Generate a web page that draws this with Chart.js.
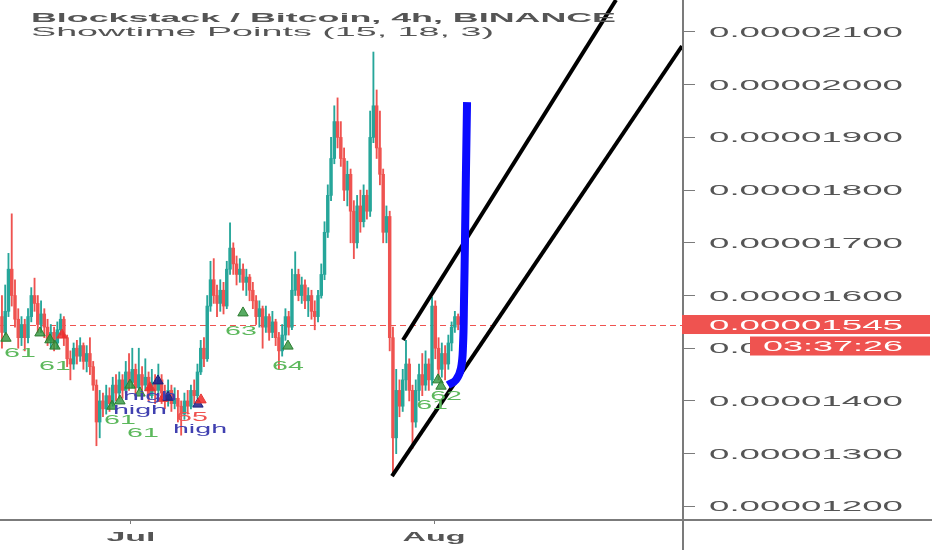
<!DOCTYPE html>
<html>
<head>
<meta charset="utf-8">
<script src="https://cdn.jsdelivr.net/npm/chart.js@4.4.1/dist/chart.umd.min.js"></script>
<style>
html, body { margin: 0; padding: 0; background: #fff; }
canvas { display: block; }
</style>
</head>
<body>
<canvas id="chart" width="932" height="550"></canvas>
<script>
'use strict'

// prices are in satoshi (1e-8 BTC), time in days from Jul 1
const GREEN = '#26a69a'
const RED = '#ef5350'

const FIRST_DAY = -13.2
const CANDLE_STEP = 1 / 3
const FIRST_OPEN = 1560

const closes = [1530,1570,1650,1600,1555,1520,1545,1520,1560,1600,
	1585,1545,1565,1540,1515,1530,1510,1535,1555,1520,
	1480,1470,1500,1485,1505,1475,1490,1465,1430,1360,
	1400,1385,1410,1395,1430,1415,1440,1420,1455,1435,
	1460,1425,1450,1430,1445,1410,1435,1420,1440,1415,
	1400,1420,1395,1405,1390,1375,1400,1390,1420,1410,
	1455,1500,1480,1580,1630,1600,1585,1610,1580,1650,
	1690,1660,1640,1650,1625,1635,1610,1590,1560,1575,
	1540,1560,1530,1550,1520,1495,1525,1560,1540,1610,
	1640,1600,1620,1590,1600,1570,1560,1600,1640,1720,
	1790,1860,1930,1900,1860,1800,1830,1760,1700,1770,
	1740,1790,1760,1900,1960,1880,1830,1720,1750,1520,
	1330,1420,1390,1440,1470,1420,1360,1420,1450,1430,
	1470,1440,1580,1500,1460,1490,1470,1510,1540,1560,
	1545]

const highs = [1600,1620,1680,1755,1630,1575,1560,1555,1575,1615,
	1633,1600,1590,1575,1555,1545,1540,1550,1565,1560,
	1525,1495,1510,1515,1520,1510,1505,1520,1475,1440,
	1420,1415,1430,1425,1445,1450,1455,1450,1475,1490,
	1500,1470,1500,1465,1480,1455,1460,1450,1470,1450,
	1430,1440,1430,1425,1420,1400,1415,1420,1430,1440,
	1470,1515,1520,1600,1665,1670,1620,1630,1625,1665,
	1738,1700,1675,1670,1660,1650,1640,1625,1600,1590,
	1580,1580,1565,1570,1555,1530,1545,1575,1570,1650,
	1683,1650,1635,1630,1615,1610,1590,1610,1660,1740,
	1810,1900,1960,1975,1930,1880,1855,1840,1780,1790,
	1800,1810,1800,1950,2062,1990,1950,1840,1770,1760,
	1540,1460,1440,1460,1515,1480,1430,1440,1470,1490,
	1495,1480,1597,1590,1520,1510,1505,1525,1550,1570,
	1565]

const lows = [1500,1525,1560,1580,1540,1500,1505,1495,1510,1550,
	1570,1530,1530,1520,1505,1500,1495,1500,1525,1505,
	1465,1440,1460,1470,1475,1460,1455,1450,1420,1315,
	1330,1370,1375,1380,1390,1400,1405,1405,1415,1420,
	1425,1410,1420,1405,1420,1400,1405,1395,1410,1395,
	1385,1390,1380,1385,1360,1335,1365,1375,1385,1395,
	1405,1450,1465,1475,1570,1585,1560,1570,1565,1575,
	1640,1640,1620,1625,1610,1600,1590,1575,1545,1540,
	1500,1530,1515,1520,1505,1460,1485,1515,1525,1535,
	1600,1590,1585,1575,1560,1555,1535,1550,1595,1630,
	1710,1780,1850,1880,1845,1780,1770,1700,1670,1690,
	1720,1730,1745,1750,1890,1860,1810,1700,1700,1495,
	1262,1300,1370,1380,1420,1400,1310,1350,1400,1410,
	1420,1420,1430,1480,1440,1445,1440,1460,1495,1530,
	1535]

// axis
const X_MIN = -13.4
const X_MAX = 56.37
const Y_MIN = 1176
const Y_MAX = 2160.7
const monthDays = [0, 31]
const monthLabels = ['Jul', 'Aug']
const priceTicks = [1200, 1300, 1400, 1500, 1600, 1700, 1800, 1900, 2000, 2100]
const countdown = '03:37:26'

// drawings
const upperChannelDays = [27.83, 49.62]
const upperChannelVals = [1515.6, 2160.7]
const lowerChannelDays = [26.70, 56.37]
const lowerChannelVals = [1257.5, 2073.4]
const arrowDays = [32.43, 33.25, 33.76, 33.97, 34.07, 34.17, 34.27, 34.38]
const arrowVals = [1430, 1440, 1462, 1506, 1591, 1705, 1838, 1967]

// Showtime Points markers
const markDays = [-12.79, -9.31, -8.29, -7.06, -7.78, -0.10, 0.92, 1.94, 2.76, -1.13, 3.27, 3.79, 6.85, 7.16, -1.94, 11.46, 16.06, 31.41, 31.72]
const markVals = [1519, 1529, 1516, 1525, 1504, 1430, 1415, 1425, 1438, 1400, 1405, 1407, 1394, 1402, 1390, 1567, 1504, 1440, 1428]
const markKinds = ['g', 'g', 'g', 'r', 'g', 'g', 'g', 'r', 'b', 'g', 'r', 'b', 'b', 'r', 'g', 'g', 'g', 'g', 'g']
const noteDays = [-11.36, -7.78, 1.94, 0.92, -1.13, 1.23, 6.24, 7.06, 11.25, 16.06, 32.23, 30.80]
const noteVals = [1483, 1459, 1402, 1375, 1356, 1332, 1362, 1339, 1525, 1459, 1402, 1385]
const noteTexts = ['61', '61', 'high', 'high', '61', '61', '65', 'high', '63', '64', '62', '61']
const noteKinds = ['g', 'g', 'b', 'b', 'g', 'g', 'r', 'b', 'g', 'g', 'g', 'g']

const MARK_FILL = { g: 'rgba(46,150,60,0.8)', r: 'rgba(240,40,40,0.85)', b: 'rgba(30,30,140,0.85)' }
const MARK_LINE = { g: '#2e7d32', r: '#e53935', b: '#1a237e' }
const NOTE_COLOR = { g: '#5cb85c', r: '#ef5350', b: '#4040b0' }

const opens = closes.map((c, i) => i ? closes[i - 1] : FIRST_OPEN)
const days = closes.map((c, i) => FIRST_DAY + i * CANDLE_STEP)
const candleColors = closes.map((c, i) => c >= opens[i] ? GREEN : RED)
const lastClose = closes[closes.length - 1]

const fmtPrice = v => (v / 1e8).toFixed(8)

function fitText(ctx, text, x, base, font, color, width, align) {
	ctx.save()
	ctx.font = font
	ctx.fillStyle = color
	ctx.textBaseline = 'alphabetic'
	ctx.textAlign = 'left'
	const k = width / ctx.measureText(text).width
	ctx.translate(align === 'center' ? x - width / 2 : x, base)
	ctx.scale(k, 1)
	ctx.fillText(text, 0, 0)
	ctx.restore()
}

function wideText(ctx, text, x, base, font, color, sx) {
	ctx.save()
	ctx.font = font
	const w = ctx.measureText(text).width * sx
	ctx.restore()
	fitText(ctx, text, x, base, font, color, w, 'center')
}

const decor = {
	id: 'decor',
	beforeDatasetsDraw(chart) {
		const { ctx, chartArea: a, scales: { y } } = chart
		const py = Math.round(y.getPixelForValue(lastClose)) + 0.5
		ctx.save()
		ctx.strokeStyle = RED
		ctx.lineWidth = 1
		ctx.setLineDash([6, 4])
		ctx.beginPath()
		ctx.moveTo(a.left, py)
		ctx.lineTo(a.right, py)
		ctx.stroke()
		ctx.restore()
	},
	afterDatasetsDraw(chart) {
		const { ctx, scales: { x, y } } = chart
		noteTexts.forEach((t, i) => {
			wideText(ctx, t, x.getPixelForValue(noteDays[i]), y.getPixelForValue(noteVals[i]),
				'13px "Liberation Sans", Arial, sans-serif', NOTE_COLOR[noteKinds[i]], 2.2)
		})
	},
	afterDraw(chart) {
		const { ctx, chartArea: a, scales: { x, y } } = chart
		const W = chart.width, H = chart.height
		// axis lines running to the canvas edges
		ctx.save()
		ctx.strokeStyle = '#7b7b7b'
		ctx.lineWidth = 2
		ctx.beginPath()
		ctx.moveTo(a.right + 1, 0)
		ctx.lineTo(a.right + 1, H)
		ctx.moveTo(0, a.bottom + 1)
		ctx.lineTo(W, a.bottom + 1)
		ctx.stroke()
		ctx.restore()

		const tickFont = '14px "Liberation Sans", Arial, sans-serif'
		y.ticks.forEach(t => {
			const py = y.getPixelForValue(t.value)
			fitText(ctx, fmtPrice(t.value), a.right + 27, py + 5, tickFont, '#555', 194)
		})
		x.ticks.forEach((t, i) => {
			const px = x.getPixelForValue(t.value)
			fitText(ctx, monthLabels[i], px, a.bottom + 22, 'bold 13px "Liberation Sans", Arial, sans-serif', '#555',
				i ? 63 : 49, 'center')
		})

		// last price and countdown tags
		const py = y.getPixelForValue(lastClose)
		ctx.fillStyle = RED
		ctx.fillRect(a.right, py - 9.5, W - a.right - 2, 19)
		fitText(ctx, fmtPrice(lastClose), a.right + 27, py + 5, tickFont, '#fff', 194)
		ctx.fillStyle = RED
		ctx.fillRect(a.right + 68, py + 12, W - a.right - 70, 19)
		fitText(ctx, countdown, a.right + 81, py + 26.5, tickFont, '#fff', 140)

		fitText(ctx, 'Blockstack / Bitcoin, 4h, BINANCE', 31, 22, 'bold 13px "Liberation Sans", Arial, sans-serif', '#555', 585)
		fitText(ctx, 'Showtime Points (15, 18, 3)', 31, 36, '13px "Liberation Sans", Arial, sans-serif', '#555', 463)
	}
}

const ctx = document.getElementById('chart').getContext('2d')
const chart = new Chart(ctx, {
	type: 'bar',
	data: {
		datasets: [
			{
				label: 'wicks',
				data: days.map((d, i) => ({ x: d, y: [lows[i], highs[i]] })),
				backgroundColor: candleColors,
				barThickness: 1.2,
				grouped: false,
				order: 4
			},
			{
				label: 'bodies',
				data: days.map((d, i) => ({ x: d, y: [opens[i], closes[i]] })),
				backgroundColor: candleColors,
				barThickness: 2.8,
				minBarLength: 1,
				grouped: false,
				order: 3
			},
			{
				type: 'scatter',
				label: 'points',
				data: markDays.map((d, i) => ({ x: d, y: markVals[i] })),
				pointStyle: 'triangle',
				pointRadius: 6,
				backgroundColor: markKinds.map(k => MARK_FILL[k]),
				borderColor: markKinds.map(k => MARK_LINE[k]),
				borderWidth: 1,
				order: 2
			},
			{
				type: 'line',
				label: 'upper channel',
				data: upperChannelDays.map((d, i) => ({ x: d, y: upperChannelVals[i] })),
				borderColor: '#000',
				borderWidth: 4,
				pointRadius: 0,
				clip: 0,
				order: 1
			},
			{
				type: 'line',
				label: 'lower channel',
				data: lowerChannelDays.map((d, i) => ({ x: d, y: lowerChannelVals[i] })),
				borderColor: '#000',
				borderWidth: 4,
				pointRadius: 0,
				clip: 0,
				order: 1
			},
			{
				type: 'line',
				label: 'projection',
				data: arrowDays.map((d, i) => ({ x: d, y: arrowVals[i] })),
				borderColor: '#0a0aff',
				borderWidth: 8,
				borderCapStyle: 'butt',
				tension: 0.4,
				pointRadius: 0,
				order: 0
			}
		]
	},
	options: {
		responsive: false,
		animation: false,
		events: [],
		layout: { padding: 0, autoPadding: false },
		plugins: {
			legend: { display: false },
			tooltip: { enabled: false }
		},
		scales: {
			x: {
				type: 'linear',
				min: X_MIN,
				max: X_MAX,
				offset: false,
				border: { display: false },
				grid: { display: true, drawOnChartArea: false, offset: false, tickLength: 5, color: '#7b7b7b' },
				ticks: { display: false },
				afterBuildTicks(scale) { scale.ticks = monthDays.map(v => ({ value: v })) },
				afterFit(scale) { scale.height = 31 }
			},
			y: {
				position: 'right',
				min: Y_MIN,
				max: Y_MAX,
				border: { display: false },
				grid: { display: true, drawOnChartArea: false, tickLength: 13, color: '#7b7b7b' },
				ticks: { display: false },
				afterBuildTicks(scale) { scale.ticks = priceTicks.map(v => ({ value: v })) },
				afterFit(scale) { scale.width = 250 }
			}
		}
	},
	plugins: [decor]
})
</script>
</body>
</html>
